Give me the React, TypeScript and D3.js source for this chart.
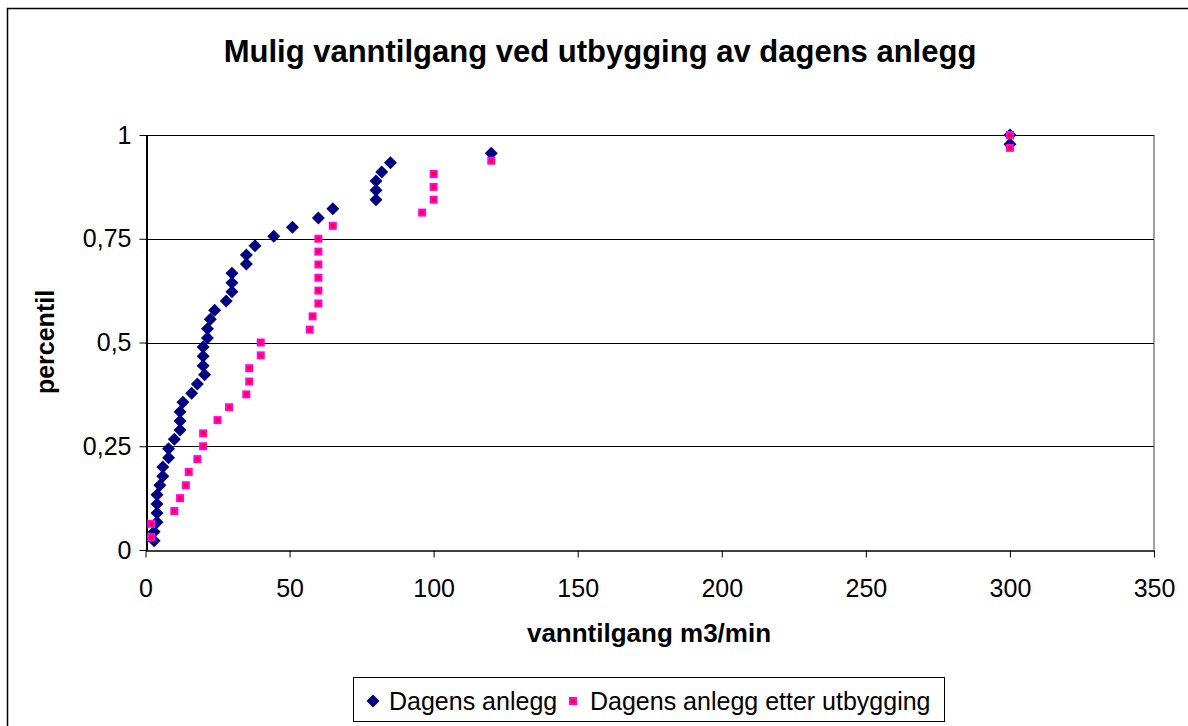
import React, { useEffect, useRef } from 'react';
import * as d3 from 'd3';

// Dagens anlegg (x = m3/min, y = percentil)
const dagensX = [3, 3, 4, 4, 4, 4, 5, 6, 6, 8, 8, 10, 12, 12, 12, 13, 16, 18, 20.5, 20, 20, 20, 21.5, 21.5, 22.5, 24, 28, 30, 30, 30, 35, 35, 38, 44.5, 51, 60, 65, 80, 80, 80, 82, 85, 120, 300, 300];
const dagensY = [0.022, 0.044, 0.067, 0.089, 0.111, 0.133, 0.156, 0.178, 0.2, 0.222, 0.244, 0.267, 0.289, 0.311, 0.333, 0.356, 0.378, 0.4, 0.422, 0.444, 0.467, 0.489, 0.511, 0.533, 0.556, 0.578, 0.6, 0.622, 0.644, 0.667, 0.689, 0.711, 0.733, 0.756, 0.778, 0.8, 0.822, 0.844, 0.867, 0.889, 0.911, 0.933, 0.956, 0.978, 1.0];

// Dagens anlegg etter utbygging
const etterX = [2, 2, 10, 12, 14, 15, 18, 20, 20, 25, 29, 35, 36, 36, 40, 40, 57, 58, 60, 60, 60, 60, 60, 60, 65, 96, 100, 100, 100, 120, 300, 300];
const etterY = [0.031, 0.063, 0.094, 0.125, 0.156, 0.188, 0.219, 0.25, 0.281, 0.313, 0.344, 0.375, 0.406, 0.438, 0.469, 0.5, 0.531, 0.563, 0.594, 0.625, 0.656, 0.688, 0.719, 0.75, 0.781, 0.813, 0.844, 0.875, 0.906, 0.938, 0.969, 1.0];

const xTicks = [0, 50, 100, 150, 200, 250, 300, 350];
const yTicks = [0, 0.25, 0.5, 0.75, 1];
const yTickLabels = ['0', '0,25', '0,5', '0,75', '1'];

const FONT = '"Liberation Sans", Arial, sans-serif';

export default function App() {
  const svgRef = useRef<SVGSVGElement | null>(null);

  useEffect(() => {
    if (!svgRef.current) return;
    const svg = d3.select(svgRef.current);
    svg.selectAll('*').remove();

    const width = 1188;
    const height = 726;

    const x = d3.scaleLinear().domain([0, 350]).range([145.5, 1154]);
    const y = d3.scaleLinear().domain([0, 1]).range([550, 135]);

    svg.append('rect').attr('width', width).attr('height', height).attr('fill', '#fff');

    // outer chart border
    svg.append('rect')
      .attr('x', 7.5).attr('y', 8.5)
      .attr('width', width + 20).attr('height', height + 20)
      .attr('fill', 'none').attr('stroke', '#000').attr('stroke-width', 1.5);

    // title
    svg.append('text')
      .attr('x', 600).attr('y', 62)
      .attr('text-anchor', 'middle')
      .attr('font-family', FONT).attr('font-weight', 'bold').attr('font-size', 31)
      .text('Mulig vanntilgang ved utbygging av dagens anlegg');

    // plot area right border
    svg.append('line')
      .attr('x1', x(350)).attr('x2', x(350))
      .attr('y1', y(1)).attr('y2', y(0))
      .attr('stroke', '#808080').attr('stroke-width', 1.5);

    // gridlines
    svg.append('g')
      .selectAll('line')
      .data(yTicks.filter(d => d > 0))
      .join('line')
      .attr('x1', x(0)).attr('x2', x(350))
      .attr('y1', d => Math.round(y(d)) + 0.5).attr('y2', d => Math.round(y(d)) + 0.5)
      .attr('stroke', '#000').attr('stroke-width', 1);

    // x axis
    const xAxis = svg.append('g')
      .attr('transform', `translate(0,${Math.round(y(0)) + 0.5})`)
      .call(d3.axisBottom(x).tickValues(xTicks).tickSize(7).tickSizeOuter(0).tickPadding(22).tickFormat(d => String(d)));
    xAxis.select('.domain').attr('stroke', '#000').attr('stroke-width', 1.5);
    xAxis.selectAll('text').attr('font-family', FONT).attr('font-size', 25).attr('fill', '#000');

    // y axis
    const yAxis = svg.append('g')
      .attr('transform', `translate(${Math.round(x(0)) + 0.5},0)`)
      .call(d3.axisLeft(y).tickValues(yTicks).tickSize(7).tickSizeOuter(0).tickPadding(8)
        .tickFormat((d, i) => yTickLabels[i]));
    yAxis.select('.domain').attr('stroke', '#000').attr('stroke-width', 2);
    yAxis.selectAll('text').attr('font-family', FONT).attr('font-size', 25).attr('fill', '#000');

    // axis titles
    svg.append('text')
      .attr('transform', `translate(54,342) rotate(-90)`)
      .attr('text-anchor', 'middle')
      .attr('font-family', FONT).attr('font-weight', 'bold').attr('font-size', 25)
      .text('percentil');

    svg.append('text')
      .attr('x', 649).attr('y', 642)
      .attr('text-anchor', 'middle')
      .attr('font-family', FONT).attr('font-weight', 'bold').attr('font-size', 26)
      .text('vanntilgang m3/min');

    const diamond = (cx: number, cy: number, r: number) =>
      `M${cx},${cy - r}L${cx + r},${cy}L${cx},${cy + r}L${cx - r},${cy}Z`;

    // series 1: diamonds
    const dagens = dagensX.map((v, i) => ({ x: v, y: dagensY[i] }));
    svg.append('g')
      .selectAll('path')
      .data(dagens)
      .join('path')
      .attr('d', d => diamond(x(d.x), y(d.y), 6.5))
      .attr('fill', '#000080');

    // series 2: squares
    const etter = etterX.map((v, i) => ({ x: v, y: etterY[i] }));
    svg.append('g')
      .selectAll('rect')
      .data(etter)
      .join('rect')
      .attr('x', d => x(d.x) - 3)
      .attr('y', d => y(d.y) - 3)
      .attr('width', 6).attr('height', 6)
      .attr('fill', '#ff0000')
      .attr('stroke', '#ff00ff').attr('stroke-width', 2);

    // legend
    const lg = svg.append('g');
    lg.append('rect')
      .attr('x', 353.5).attr('y', 677.5).attr('width', 591).attr('height', 44)
      .attr('fill', '#fff').attr('stroke', '#000').attr('stroke-width', 1);
    lg.append('path').attr('d', diamond(373, 701, 6.5)).attr('fill', '#000080');
    lg.append('text')
      .attr('x', 389).attr('y', 710)
      .attr('font-family', FONT).attr('font-size', 25)
      .text('Dagens anlegg');
    lg.append('rect')
      .attr('x', 570).attr('y', 698).attr('width', 6).attr('height', 6)
      .attr('fill', '#ff0000').attr('stroke', '#ff00ff').attr('stroke-width', 2);
    lg.append('text')
      .attr('x', 590).attr('y', 710)
      .attr('font-family', FONT).attr('font-size', 25)
      .text('Dagens anlegg etter utbygging');
  }, []);

  return (
    <svg
      ref={svgRef}
      width={1188}
      height={726}
      style={{ position: 'absolute', left: 0, top: 0, display: 'block' }}
    />
  );
}
